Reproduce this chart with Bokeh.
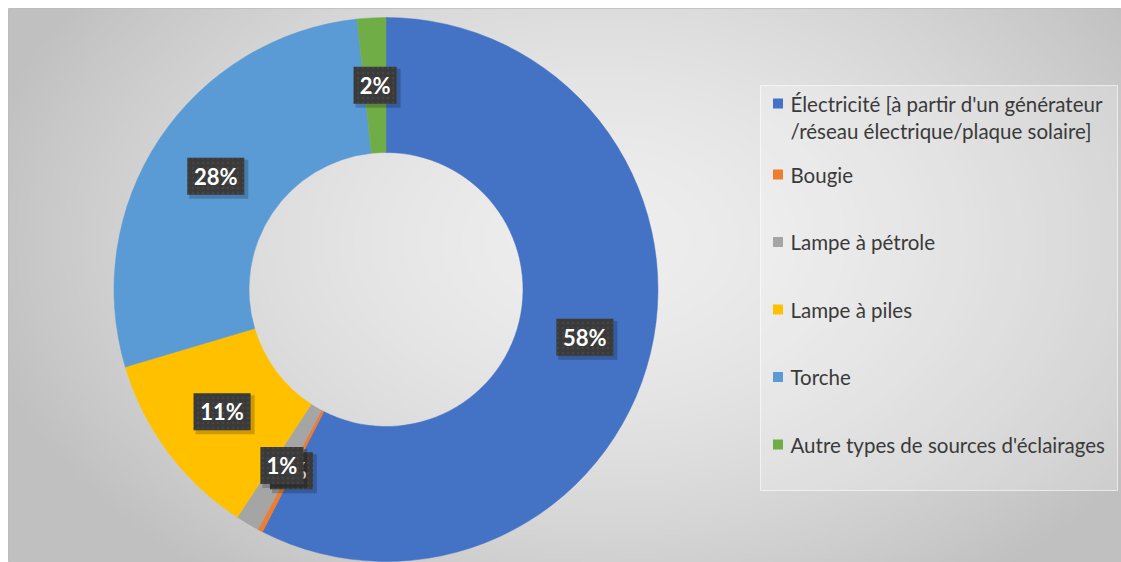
import numpy as np
from bokeh.plotting import figure
from bokeh.models import Range1d
from bokeh.core.properties import value
from bokeh.embed import file_html
from bokeh.resources import INLINE

# ---------------- data ----------------
categories = [
    "Électricité [à partir d'un générateur\n/réseau électrique/plaque solaire]",
    "Bougie",
    "Lampe à pétrole",
    "Lampe à piles",
    "Torche",
    "Autre types de  sources d'éclairages",
]
shares = [57.5, 0.3, 1.4, 11.2, 27.9, 1.7]
colors = ["#4472C4", "#ED7D31", "#A5A5A5", "#FFC000", "#5B9BD5", "#70AD47"]

# ---------------- layout ----------------
W, H = 1113, 554
OX, OY = 8, 8


def X(sx):
    return sx - OX


def Y(sy):
    return H - (sy - OY)


p = figure(width=W + OX, height=H + OY, x_range=Range1d(0, W), y_range=Range1d(0, H),
           output_backend="svg", toolbar_location=None, min_border=0,
           min_border_left=OX, min_border_top=OY,
           x_axis_location=None, y_axis_location=None)
p.grid.visible = False
p.outline_line_color = "#bdbdbd"
p.background_fill_color = "#dcdcdc"
p.border_fill_color = "white"

# background gradient (style only)
gw, gh = 371, 185
gx, gy = np.meshgrid(np.linspace(0, W, gw), np.linspace(0, H, gh))
sxx = gx + OX
syy = (H - gy) + OY
d = np.sqrt(((sxx - 600) / 640) ** 2 + ((syy - 240) / 430) ** 2)
g = np.clip(238 - 46 * d ** 1.6, 192, 240).astype(np.uint8)
img = np.empty((gh, gw), dtype=np.uint32)
v = img.view(dtype=np.uint8).reshape((gh, gw, 4))
v[..., 0] = g
v[..., 1] = g
v[..., 2] = g
v[..., 3] = 255
p.image_rgba(image=[img], x=0, y=0, dw=W, dh=H)

# ---------------- donut ----------------
CX, CY = 385.5, 289
R_OUT, R_IN = 272, 137
frac = np.array(shares) / sum(shares)
cum = np.concatenate([[0.0], np.cumsum(frac)])
start = np.pi / 2 - 2 * np.pi * cum[:-1]
end = np.pi / 2 - 2 * np.pi * cum[1:]
p.annular_wedge(x=X(CX), y=Y(CY), inner_radius=R_IN, outer_radius=R_OUT,
                start_angle=start, end_angle=end, direction="clock",
                fill_color=colors, line_color=colors, line_width=0.5)

# ---------------- data labels ----------------
mid = np.pi / 2 - 2 * np.pi * (cum[:-1] + cum[1:]) / 2
RM = (R_OUT + R_IN) / 2
lx = X(CX) + RM * np.cos(mid)
ly = Y(CY) + RM * np.sin(mid)
labels = [f"{int(s + 0.5)}%" for s in shares]
for i, t in enumerate(labels):
    bw = 15 + 14 * len(t)
    bh = 37
    p.rect(x=lx[i] + 3, y=ly[i] - 3, width=bw + 2, height=bh + 2,
           fill_color="black", fill_alpha=0.2, line_color=None)
    p.rect(x=lx[i], y=ly[i], width=bw, height=bh, fill_color="#3a3a3a",
           hatch_pattern="dot", hatch_color="#505050", hatch_scale=5,
           hatch_alpha=0.5, line_color=None)
    p.text(x=[lx[i]], y=[ly[i]], text=[t], text_color="white",
           text_font=value("Lato"), text_font_style="bold",
           text_font_size="22px", text_align="center", text_baseline="middle")

# ---------------- legend ----------------
p.quad(left=X(760), right=X(1117), top=Y(85), bottom=Y(490),
       fill_color="white", fill_alpha=0.22, line_color="white", line_alpha=0.6)

first_y, first_gap, step, line_h = 103, 71, 67.5, 27
item_y = [first_y] + [first_y + first_gap + step * (k - 1) for k in range(1, len(categories))]
for i, cat in enumerate(categories):
    p.rect(x=X(777.5), y=Y(item_y[i]), width=10, height=10,
           fill_color=colors[i], line_color=None)
    for j, line in enumerate(cat.split("\n")):
        p.text(x=[X(790)], y=[Y(item_y[i] + j * line_h)], text=[line],
               text_color="#3a3a3a", text_font=value("Lato"),
               text_font_size="20.5px", text_align="left", text_baseline="middle")

open("out.html", "w").write(file_html(p, INLINE))
